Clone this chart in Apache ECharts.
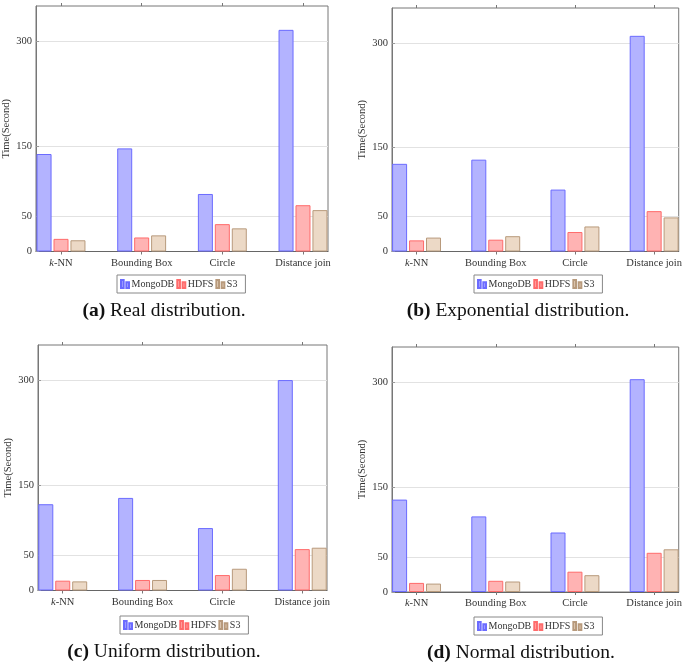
<!DOCTYPE html>
<html><head><meta charset="utf-8">
<script src="https://cdn.jsdelivr.net/npm/echarts@6/dist/echarts.min.js"></script>
<style>html,body{margin:0;padding:0;background:#fff}#c{width:685px;height:663px}</style>
</head><body><div id="c"></div>
<script>
const categories = ['k-NN', 'Bounding Box', 'Circle', 'Distance join'];
const seriesNames = ['MongoDB', 'HDFS', 'S3'];
const yTicks = [0, 50, 150, 300];
const yLabel = 'Time(Second)';

const realMongo = [139, 147, 82, 316];
const realHDFS  = [18, 20, 39, 66];
const realS3    = [16, 23, 33, 59];

const expMongo = [126, 132, 89, 310];
const expHDFS  = [16, 17, 28, 58];
const expS3    = [20, 22, 36, 49];

const uniMongo = [123, 132, 89, 300];
const uniHDFS  = [14, 15, 22, 59];
const uniS3    = [13, 15, 31, 61];

const normMongo = [132, 108, 85, 304];
const normHDFS  = [13, 16, 29, 56];
const normS3    = [12, 15, 24, 61];

const captionTags = ['(a)', '(b)', '(c)', '(d)'];
const captionTexts = ['Real distribution.', 'Exponential distribution.', 'Uniform distribution.', 'Normal distribution.'];

const panelData = [
  [realMongo, realHDFS, realS3],
  [expMongo, expHDFS, expS3],
  [uniMongo, uniHDFS, uniS3],
  [normMongo, normHDFS, normS3]
];

const layouts = [
  {left: 35,  top: 6,   width: 293, height: 245.5, lgLeft: 117, lgTop: 275, capX: 164, capY: 311},
  {left: 392, top: 8,   width: 289, height: 243.5, lgLeft: 474, lgTop: 275, capX: 518, capY: 311},
  {left: 38,  top: 345, width: 289, height: 245.5, lgLeft: 120, lgTop: 616, capX: 164, capY: 652},
  {left: 392, top: 347, width: 293, height: 245,   lgLeft: 474, lgTop: 617, capX: 521, capY: 653}
];

const fills = ['#b3b3ff', '#ffb3b3', '#ecd9c6'];
const borders = ['#6b6bff', '#ff6b6b', '#b89a7c'];
const SERIF = '"Liberation Serif", "DejaVu Serif", serif';
const catTicks = categories.map((c, i) => i);
const legendIcon = 'path://M0,0h3v9h-3z M6,2.5h3v6.5h-3z';

const grid = [], xAxis = [], yAxis = [], series = [], legend = [], graphic = [];

layouts.forEach((L, p) => {
  grid.push({left: L.left, top: L.top, width: L.width, height: L.height,
    show: true, borderColor: '#777', borderWidth: 1, backgroundColor: 'transparent'});
  xAxis.push({
    type: 'value', gridIndex: p, min: -0.31, max: 3.31, position: 'bottom',
    axisLine: {show: true, onZero: false, lineStyle: {color: '#666', width: 1}},
    axisTick: {show: true, customValues: catTicks, inside: false, length: 3, lineStyle: {color: '#777'}},
    axisLabel: {show: true, customValues: catTicks, margin: 6, color: '#333',
      fontFamily: SERIF, fontSize: 10.5,
      formatter: v => {
        const s = categories[Math.round(v)] || '';
        return s.replace(/^k-/, '{i|k}-');
      },
      rich: {i: {fontStyle: 'italic', fontFamily: SERIF, fontSize: 10.5, color: '#333'}}
    },
    splitLine: {show: false}
  });
  xAxis.push({
    type: 'value', gridIndex: p, min: -0.31, max: 3.31, position: 'top',
    axisLine: {show: false, onZero: false},
    axisTick: {show: true, customValues: catTicks, inside: false, length: 3, lineStyle: {color: '#777'}},
    axisLabel: {show: false},
    splitLine: {show: false}
  });
  yAxis.push({
    type: 'value', gridIndex: p, min: 0, max: 350, position: 'left',
    name: yLabel, nameLocation: 'middle', nameGap: 24, nameRotate: 90,
    nameTextStyle: {fontFamily: SERIF, fontSize: 10.5, color: '#333'},
    axisLine: {show: true, onZero: false, lineStyle: {color: '#777', width: 1}},
    axisTick: {show: true, customValues: yTicks, inside: true, length: 3, lineStyle: {color: '#999'}},
    axisLabel: {show: true, customValues: yTicks, margin: 4, color: '#333', fontFamily: SERIF, fontSize: 10.5},
    splitLine: {show: true, lineStyle: {color: '#e2e2e2', width: 1}}
  });
  panelData[p].forEach((vals, s) => {
    series.push({
      type: 'bar', name: seriesNames[s], xAxisIndex: p * 2, yAxisIndex: p,
      barWidth: 15, barGap: '13%',
      itemStyle: {color: fills[s], borderColor: borders[s], borderWidth: 1},
      data: vals.map((v, i) => [i, v])
    });
  });
  legend.push({
    left: L.lgLeft, top: L.lgTop, orient: 'horizontal',
    data: seriesNames, icon: legendIcon, itemWidth: 9, itemHeight: 8, itemGap: 2,
    padding: [4, 8, 4, 3], borderColor: '#888', borderWidth: 1, backgroundColor: '#fff',
    textStyle: {fontFamily: SERIF, fontSize: 10, color: '#333', padding: [0, 0, 0, -3]},
    selectedMode: false
  });
  graphic.push({
    type: 'text', x: L.capX, y: L.capY,
    style: {
      text: '{b|' + captionTags[p] + '} ' + captionTexts[p],
      fontFamily: SERIF, fontSize: 19.5, fill: '#111',
      align: 'center', verticalAlign: 'middle',
      rich: {b: {fontFamily: SERIF, fontSize: 19.5, fontWeight: 'bold', fill: '#111'}}
    }
  });
});

const chart = echarts.init(document.getElementById('c'), null, {renderer: 'canvas'});
chart.setOption({
  animation: false,
  backgroundColor: '#fff',
  grid, xAxis, yAxis, series, legend, graphic
});
</script>
</body></html>
